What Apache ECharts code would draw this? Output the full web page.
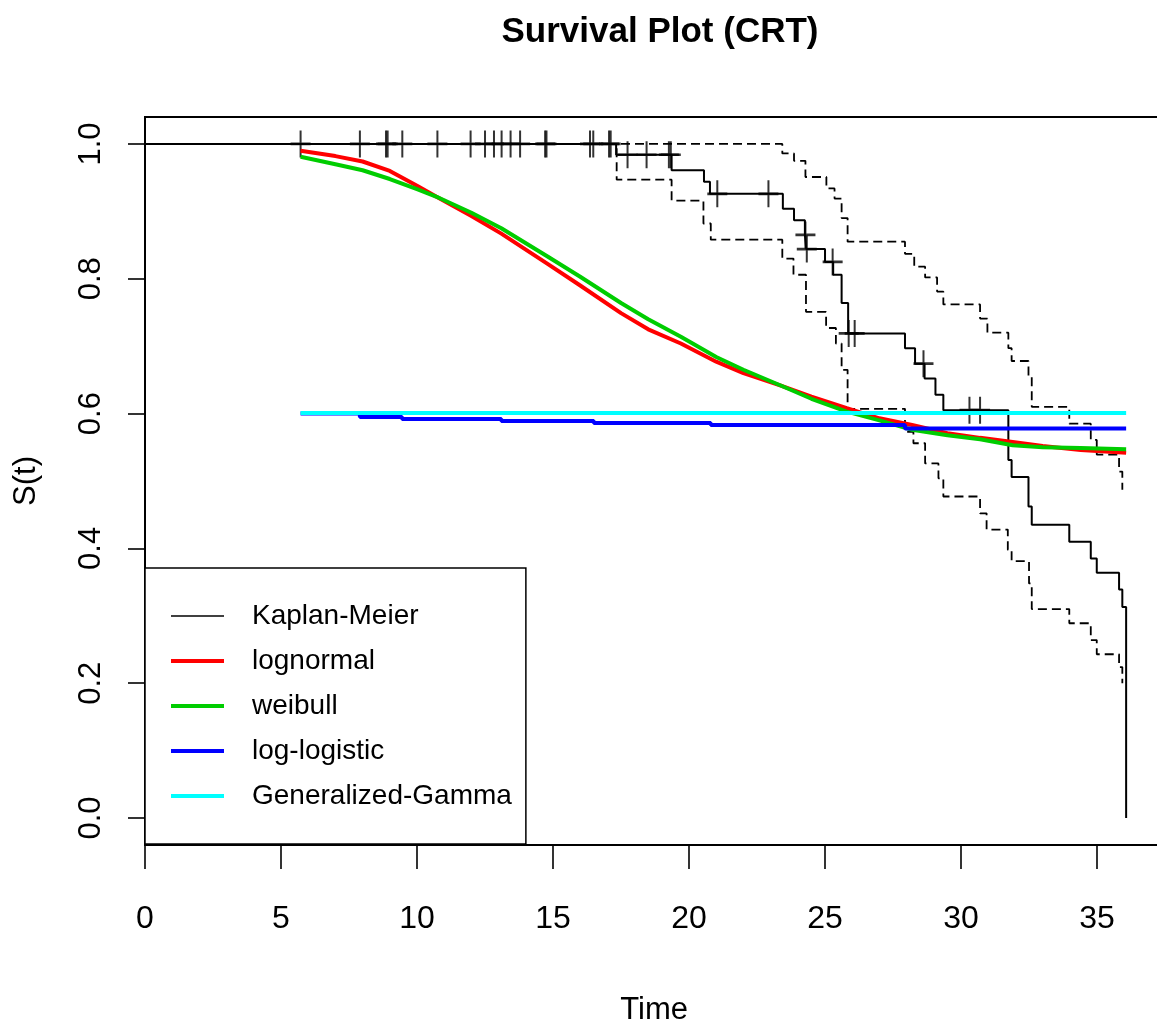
<!DOCTYPE html>
<html>
<head>
<meta charset="utf-8">
<script src="https://cdn.jsdelivr.net/npm/echarts@6/dist/echarts.min.js"></script>
<style>
html,body{margin:0;padding:0;background:#fff;}
#chart{width:1157px;height:1026px;}
</style>
</head>
<body>
<div id="chart"></div>
<script>
// ---- Data ----
const xTicks = [0, 5, 10, 15, 20, 25, 30, 35];
const yTicks = [0, 0.2, 0.4, 0.6, 0.8, 1.0];

// Kaplan-Meier step estimate
const kmTime = [0, 17.32, 19.36, 20.55, 20.77, 23.45, 23.86, 24.26, 24.31, 25.0, 25.3, 25.61, 25.85, 27.94, 28.31, 28.66, 29.06, 29.35, 31.74, 31.86, 32.48, 32.6, 33.98, 34.77, 34.99, 35.81, 35.93, 36.07];
const kmSurv = [1.0, 0.984, 0.961, 0.944, 0.926, 0.904, 0.887, 0.865, 0.844, 0.825, 0.806, 0.764, 0.719, 0.697, 0.674, 0.652, 0.628, 0.605, 0.531, 0.506, 0.462, 0.435, 0.410, 0.385, 0.364, 0.339, 0.313, 0.0];

// censoring marks
const censorTime = [5.72, 7.90, 8.86, 8.92, 9.46, 10.75, 11.97, 12.50, 12.83, 13.11, 13.44, 13.79, 14.71, 14.76, 16.36, 16.48, 17.06, 17.12, 17.74, 18.44, 19.26, 19.33, 21.04, 22.92, 24.28, 24.33, 25.28, 25.87, 26.09, 28.62, 30.31, 30.70];
const censorSurv = [1, 1, 1, 1, 1, 1, 1, 1, 1, 1, 1, 1, 1, 1, 1, 1, 1, 1, 0.984, 0.984, 0.984, 0.984, 0.926, 0.926, 0.865, 0.844, 0.825, 0.719, 0.719, 0.674, 0.605, 0.605];

// confidence limits
const upperTime = [0, 23.43, 23.86, 24.28, 25.05, 25.35, 25.61, 25.83, 27.94, 28.28, 28.68, 29.12, 29.35, 30.7, 30.97, 31.74, 31.86, 32.48, 32.6, 33.98, 34.77, 34.99, 35.81, 35.93];
const upperSurv = [1.0, 0.986, 0.975, 0.951, 0.934, 0.919, 0.890, 0.855, 0.837, 0.818, 0.802, 0.781, 0.762, 0.741, 0.720, 0.697, 0.678, 0.655, 0.610, 0.585, 0.561, 0.539, 0.514, 0.487];
const lowerTime = [0, 17.34, 19.36, 20.53, 20.8, 23.43, 23.84, 24.3, 25.04, 25.4, 25.61, 25.83, 27.94, 28.25, 28.68, 29.17, 29.35, 30.7, 30.94, 31.72, 31.86, 32.5, 32.6, 33.98, 34.77, 34.99, 35.81, 35.93];
const lowerSurv = [1.0, 0.947, 0.916, 0.882, 0.858, 0.830, 0.806, 0.751, 0.727, 0.704, 0.665, 0.607, 0.573, 0.556, 0.526, 0.504, 0.477, 0.452, 0.428, 0.398, 0.381, 0.348, 0.310, 0.289, 0.264, 0.243, 0.224, 0.200];

// parametric fits
const lnTime = [5.72, 7.0, 8.0, 9.0, 10.0, 10.7, 12.0, 13.1, 14.8, 16.0, 17.5, 18.5, 19.7, 21.0, 22.0, 23.35, 24.5, 25.8, 27.0, 28.2, 29.5, 30.7, 31.9, 33.0, 34.4, 36.07];
const lnSurv = [0.990, 0.982, 0.974, 0.960, 0.938, 0.922, 0.893, 0.867, 0.822, 0.790, 0.749, 0.725, 0.704, 0.677, 0.660, 0.642, 0.625, 0.608, 0.593, 0.583, 0.571, 0.564, 0.558, 0.552, 0.546, 0.542];
const wbTime = [5.72, 7.0, 8.0, 9.0, 10.0, 10.7, 12.0, 13.1, 14.8, 16.0, 17.5, 18.5, 19.7, 21.0, 22.0, 23.35, 24.5, 25.8, 27.0, 28.2, 29.5, 30.7, 31.9, 33.0, 34.4, 36.07];
const wbSurv = [0.981, 0.970, 0.961, 0.948, 0.933, 0.922, 0.898, 0.875, 0.833, 0.803, 0.764, 0.740, 0.714, 0.684, 0.665, 0.642, 0.622, 0.603, 0.590, 0.576, 0.568, 0.562, 0.553, 0.550, 0.549, 0.547];
const llTime = [5.72, 7.9, 9.45, 13.1, 16.5, 20.8, 27.94, 36.07];
const llSurv = [0.600, 0.595, 0.592, 0.589, 0.586, 0.583, 0.578, 0.578];
const ggTime = [5.72, 36.07];
const ggSurv = [0.601, 0.601];

const legendNames = ['Kaplan-Meier', 'lognormal', 'weibull', 'log-logistic', 'Generalized-Gamma'];
const colors = ['#000000', '#ff0000', '#00cd00', '#0000ff', '#00ffff'];

// ---- Build chart ----
const pairs = (t, s) => t.map((v, i) => [v, s[i]]);
const FONT = "'Liberation Sans', Arial, sans-serif";
const plusPath = 'path://M10.8,0H13.2V10.8H24V13.2H13.2V24H10.8V13.2H0V10.8H10.8Z';

const chart = echarts.init(document.getElementById('chart'), null, {renderer: 'canvas'});
const option = {
  animation: false,
  backgroundColor: '#fff',
  title: {
    text: 'Survival Plot (CRT)',
    left: 655, top: 10, textAlign: 'center',
    textStyle: {fontFamily: FONT, fontWeight: 'bold', fontSize: 35, color: '#000'}
  },
  grid: {left: 145, top: 117, width: 1018.4, height: 728, show: true, borderColor: '#000', borderWidth: 2,
    containLabel: false, outerBoundsMode: 'none'},
  xAxis: {
    type: 'value', min: 0, max: 37.44,
    name: 'Time', nameLocation: 'middle', nameGap: 150,
    nameTextStyle: {fontFamily: FONT, fontSize: 31, color: '#000'},
    axisLine: {show: true, onZero: false, lineStyle: {color: '#000', width: 2}},
    axisTick: {show: true, length: 24, customValues: xTicks, lineStyle: {color: '#000', width: 1.6}},
    axisLabel: {customValues: xTicks, margin: 58, fontFamily: FONT, fontSize: 32, color: '#000'},
    splitLine: {show: false}
  },
  yAxis: {
    type: 'value', min: -0.04, max: 1.04,
    name: 'S(t)', nameLocation: 'middle', nameGap: 103,
    nameTextStyle: {fontFamily: FONT, fontSize: 31, color: '#000'},
    axisLine: {show: true, onZero: false, lineStyle: {color: '#000', width: 2}},
    axisTick: {show: true, length: 17, customValues: yTicks, lineStyle: {color: '#000', width: 1.6}},
    axisLabel: {customValues: yTicks, rotate: 90, margin: 38, fontFamily: FONT, fontSize: 31, color: '#000',
      formatter: v => v.toFixed(1)},
    splitLine: {show: false}
  },
  legend: {
    orient: 'vertical', left: 145, top: 568,
    itemWidth: 53, itemHeight: 4, itemGap: 11,
    padding: [31, 14, 31, 26],
    backgroundColor: '#fff', borderColor: '#000', borderWidth: 1.5, borderRadius: 0,
    selectedMode: false,
    textStyle: {fontFamily: FONT, fontSize: 28, lineHeight: 34, color: '#000', padding: [0, 0, 0, 23]},
    data: legendNames.map((n, i) => ({
      name: n,
      icon: i === 0 ? 'path://M0,0H53V1.6H0Z' : 'rect',
      itemStyle: {color: colors[i]}
    }))
  },
  series: [
    {name: 'Kaplan-Meier', type: 'line', step: 'end', data: pairs(kmTime, kmSurv), symbol: 'none',
      lineStyle: {color: '#000', width: 2}, itemStyle: {color: '#000'}, z: 2},
    {name: 'upper', type: 'line', step: 'end', data: pairs(upperTime, upperSurv), symbol: 'none',
      lineStyle: {color: '#000', width: 1.8, type: [9, 5]}, z: 2},
    {name: 'lower', type: 'line', step: 'end', data: pairs(lowerTime, lowerSurv), symbol: 'none',
      lineStyle: {color: '#000', width: 1.8, type: [9, 5]}, z: 2},
    {name: 'censor', type: 'scatter', data: pairs(censorTime, censorSurv), symbol: plusPath,
      symbolSize: [20, 27], itemStyle: {color: '#000'}, z: 2},
    {name: 'lognormal', type: 'line', data: pairs(lnTime, lnSurv), symbol: 'none',
      lineStyle: {color: colors[1], width: 4}, itemStyle: {color: colors[1]}, z: 3},
    {name: 'weibull', type: 'line', data: pairs(wbTime, wbSurv), symbol: 'none',
      lineStyle: {color: colors[2], width: 4}, itemStyle: {color: colors[2]}, z: 3},
    {name: 'log-logistic', type: 'line', step: 'end', data: pairs(llTime, llSurv), symbol: 'none',
      lineStyle: {color: colors[3], width: 4}, itemStyle: {color: colors[3]}, z: 3},
    {name: 'Generalized-Gamma', type: 'line', data: pairs(ggTime, ggSurv), symbol: 'none',
      lineStyle: {color: colors[4], width: 4}, itemStyle: {color: colors[4]}, z: 3}
  ]
};
chart.setOption(option);
</script>
</body>
</html>
